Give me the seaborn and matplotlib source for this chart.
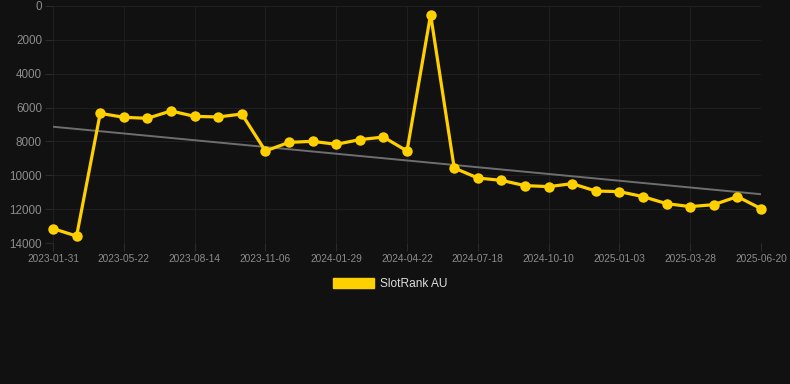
import numpy as np
import pandas as pd
import matplotlib
matplotlib.use("Agg")
import matplotlib.pyplot as plt
from matplotlib.patches import Patch
import seaborn as sns

dates = ["2023-01-31", "2023-03-09", "2023-04-15", "2023-05-22", "2023-06-19",
         "2023-07-17", "2023-08-14", "2023-09-11", "2023-10-09", "2023-11-06",
         "2023-12-04", "2024-01-01", "2024-01-29", "2024-02-26", "2024-03-25",
         "2024-04-22", "2024-05-20", "2024-06-20", "2024-07-18", "2024-08-15",
         "2024-09-12", "2024-10-10", "2024-11-07", "2024-12-05", "2025-01-03",
         "2025-01-31", "2025-02-28", "2025-03-28", "2025-04-25", "2025-05-23",
         "2025-06-20"]
ranks = [13150, 13590, 6340, 6575, 6635, 6200, 6520, 6555, 6380, 8565,
         8055, 7995, 8170, 7895, 7740, 8565, 510, 9570, 10160, 10300,
         10610, 10670, 10495, 10930, 10965, 11260, 11675, 11850, 11735, 11260,
         11970]
tick_labels = ["2023-01-31", "2023-05-22", "2023-08-14", "2023-11-06", "2024-01-29",
               "2024-04-22", "2024-07-18", "2024-10-10", "2025-01-03", "2025-03-28",
               "2025-06-20"]
y_ticks = [0, 2000, 4000, 6000, 8000, 10000, 12000, 14000]
series_name = "SlotRank AU"

BG = "#111111"
GRID = "#1f1f1f"
TICK = "#2a2a2a"
LINE = "#FFD000"
TXT = "#8c8c8c"

sns.set_theme(style="dark")
plt.rcParams["font.family"] = ["Liberation Sans", "DejaVu Sans"]

df = pd.DataFrame({"idx": np.arange(len(dates)), "date": dates, "rank": ranks})

fig = plt.figure(figsize=(7.9, 3.84), dpi=100, facecolor=BG)
ax = fig.add_axes([53 / 790, 1 - 243 / 384, (761 - 53) / 790, (243 - 6) / 384])
ax.set_facecolor(BG)

# trend line (least squares on the data)
coef = np.polyfit(df["idx"], df["rank"], 1)
trend = np.polyval(coef, df["idx"])
ax.plot(df["idx"], trend, color="#6e6e6e", lw=1.4, zorder=2)

sns.lineplot(data=df, x="idx", y="rank", ax=ax, color=LINE, lw=2.3,
             marker="o", markersize=7.5, markeredgewidth=0, zorder=3,
             clip_on=False, legend=False)

ax.set_xlim(0, len(dates) - 1)
ax.set_ylim(14000, 0)
ax.set_xticks(df["idx"][::3])
ax.set_xticklabels(tick_labels)
ax.set_yticks(y_ticks)
ax.set_yticklabels([str(v) for v in y_ticks])
ax.set_xlabel("")
ax.set_ylabel("")

ax.grid(True, color=GRID, lw=0.8)
for s in ax.spines.values():
    s.set_visible(False)
ax.tick_params(axis="x", colors=TICK, labelcolor=TXT, labelsize=7.3, length=6, width=0.8, pad=2, bottom=True)
ax.tick_params(axis="y", colors=TICK, labelcolor=TXT, labelsize=8.4, length=6, width=0.8, pad=2, left=True)

handle = Patch(facecolor=LINE, edgecolor=LINE)
leg = fig.legend([handle], [series_name], loc="center",
                 bbox_to_anchor=(390 / 790, 1 - 284 / 384), frameon=False,
                 fontsize=8.6, handlelength=3.4, handleheight=1.0, handletextpad=0.5)
for t in leg.get_texts():
    t.set_color("#dddddd")

fig.savefig("out.png", dpi=100, facecolor=BG)
